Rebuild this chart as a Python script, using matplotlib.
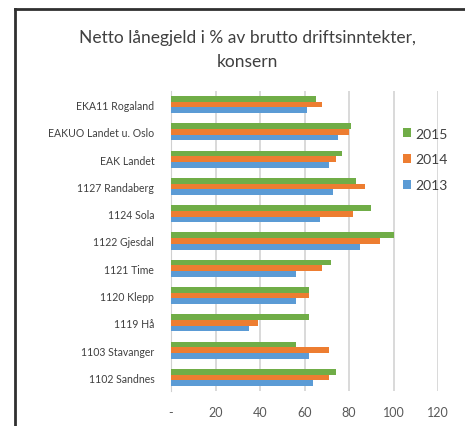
import matplotlib
matplotlib.use("Agg")
import matplotlib.pyplot as plt
from matplotlib.lines import Line2D
from matplotlib.patches import Patch
import numpy as np

# categories listed top to bottom as in the chart
categories = ['EKA11 Rogaland', 'EAKUO Landet u. Oslo', 'EAK Landet', '1127 Randaberg',
              '1124 Sola', '1122 Gjesdal', '1121 Time', '1120 Klepp', '1119 Hå',
              '1103 Stavanger', '1102 Sandnes']
values_2015 = [65, 81, 77, 83, 90, 100, 72, 62, 62, 56, 74]
values_2014 = [68, 80, 74, 87, 82, 94, 68, 62, 39, 71, 71]
values_2013 = [61, 75, 71, 73, 67, 85, 56, 56, 35, 62, 64]
years = ['2015', '2014', '2013']
x_ticks = [0, 20, 40, 60, 80, 100, 120]
x_ticklabels = ['-', '20', '40', '60', '80', '100', '120']

colors = {'2015': '#70AD47', '2014': '#ED7D31', '2013': '#5B9BD5'}

plt.rcParams['font.family'] = ['Lato', 'DejaVu Sans']

fig = plt.figure(figsize=(4.65, 4.27), dpi=100)
ax = fig.add_axes([171 / 465, 35 / 427, 267 / 465, 300 / 427])

y = np.arange(len(categories))
h = 0.208
series = [values_2015, values_2014, values_2013]
for i, (yr, vals) in enumerate(zip(years, series)):
    ax.barh(y + (i - 1) * h, vals, height=h, color=colors[yr], zorder=3)

ax.set_ylim(len(categories) - 0.5, -0.5)
ax.set_xlim(0, 120)
ax.set_yticks(y)
ax.set_yticklabels(categories, fontsize=7.6, color='#404040')
ax.set_xticks(x_ticks)
ax.set_xticklabels(x_ticklabels, fontsize=9, color='#595959')
ax.tick_params(axis='both', length=0)
ax.tick_params(axis='y', pad=12)
ax.tick_params(axis='x', pad=11)

ax.grid(axis='x', color='#D0D0D0', linewidth=1.1, zorder=0)
for s in ['top', 'right', 'bottom']:
    ax.spines[s].set_visible(False)
ax.spines['left'].set_color('#D0D0D0')

handles = [Patch(facecolor=colors[yr]) for yr in years]
fig.legend(handles, years, loc='upper left', bbox_to_anchor=(390 / 465, 1 - 116 / 427),
           frameon=False, fontsize=10, handlelength=0.6, handleheight=0.6,
           handletextpad=0.3, labelspacing=1.0, labelcolor='#404040')

fig.text(247 / 465, 1 - 50 / 427, 'Netto lånegjeld i % av brutto driftsinntekter,\nkonsern',
         ha='center', va='center', fontsize=12.5, color='#404040', linespacing=1.55)

# chart frame (cropped at right and bottom)
fig.add_artist(Line2D([15 / 465, 15 / 465], [0, 1 - 9.5 / 427], transform=fig.transFigure,
                      color='#303030', linewidth=2))
fig.add_artist(Line2D([15 / 465, 1], [1 - 9.5 / 427, 1 - 9.5 / 427], transform=fig.transFigure,
                      color='#303030', linewidth=2))

fig.savefig('out.png', dpi=100, facecolor='white')
